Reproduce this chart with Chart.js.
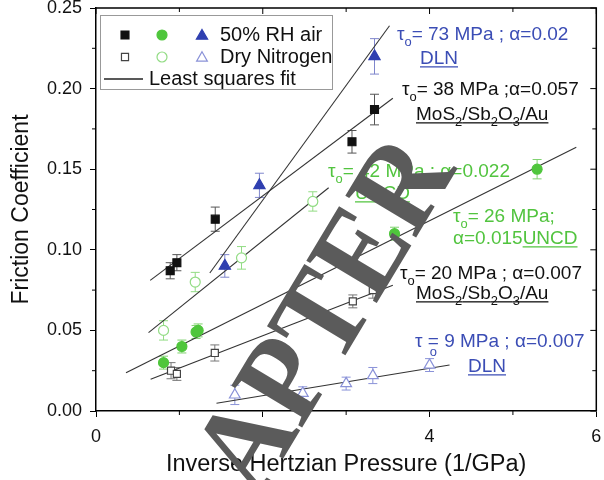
<!DOCTYPE html>
<html><head><meta charset="utf-8">
<script src="https://cdn.jsdelivr.net/npm/chart.js@4.4.1/dist/chart.umd.min.js"></script>
<style>html,body{margin:0;padding:0;background:#fff}</style>
</head><body>
<canvas id="c" width="604" height="480"></canvas>
<script>
// ---- data ----
const xTicks = [0, 2, 4, 6];
const yTicks = [0.00, 0.05, 0.10, 0.15, 0.20, 0.25];

// humid air (50% RH), filled markers
const mosAirX = [0.89, 0.97, 1.43, 3.07, 3.34];
const mosAirY = [0.087, 0.092, 0.119, 0.167, 0.187];
const mosAirErr = [0.005, 0.005, 0.0075, 0.007, 0.0095];
const dlnAirX = [1.545, 1.96, 3.34];
const dlnAirY = [0.090, 0.140, 0.220];
const dlnAirErr = [0.007, 0.0075, 0.011];
const uncdAirX = [0.81, 1.03, 1.20, 1.225, 3.58, 5.29];
const uncdAirY = [0.030, 0.040, 0.049, 0.050, 0.110, 0.150];
const uncdAirErr = [0.004, 0.004, 0.004, 0.004, 0.004, 0.006];

// dry nitrogen, open markers
const mosN2X = [0.90, 0.97, 1.425, 3.08, 3.32];
const mosN2Y = [0.025, 0.023, 0.036, 0.068, 0.075];
const mosN2Err = [0.005, 0.004, 0.005, 0.004, 0.005];
const uncdN2X = [0.81, 1.19, 1.745, 2.60];
const uncdN2Y = [0.050, 0.080, 0.095, 0.130];
const uncdN2Err = [0.006, 0.006, 0.007, 0.006];
const dlnN2X = [1.665, 2.48, 3.0, 3.32, 4.0];
const dlnN2Y = [0.010, 0.011, 0.017, 0.022, 0.0285];
const dlnN2Err = [0.006, 0.004, 0.004, 0.005, 0.004];

// least squares fit lines (end points)
const fitMosAirX = [0.65, 3.56],  fitMosAirY = [0.081, 0.194];
const fitDlnAirX = [1.365, 3.52], fitDlnAirY = [0.0856, 0.239];
const fitUncdAirX = [0.36, 5.76], fitUncdAirY = [0.0238, 0.1636];
const fitUncdN2X = [0.63, 2.79],  fitUncdN2Y = [0.0486, 0.1385];
const fitMosN2X = [0.655, 3.56],  fitMosN2Y = [0.0197, 0.078];
const fitDlnN2X = [1.445, 4.24],  fitDlnN2Y = [0.0048, 0.0285];

// ---- styling ----
const FONT = '"Liberation Sans", Arial, Helvetica, sans-serif';
const BLACK = '#111111', GREEN = '#4fc63c', BLUE = '#2f3fb0';
const GREEN_LT = '#92dc84', BLUE_LT = '#8a92d8', GREY = '#444444';
const TXT_BLUE = '#3b4db5', TXT_GREEN = '#52c43f';

const pts = (xs, ys) => xs.map((x, i) => ({x, y: ys[i]}));

function scatterSet(label, xs, ys, errs, style, radius, fill, border, errColor) {
  return {
    type: 'scatter', label, data: pts(xs, ys), errors: errs, errColor,
    pointStyle: style, pointRadius: radius, pointHoverRadius: radius,
    backgroundColor: fill, borderColor: border, borderWidth: 1.2, order: 1
  };
}
function fitSet(xs, ys) {
  return {
    type: 'line', label: 'fit', data: pts(xs, ys), showLine: true,
    borderColor: '#333333', borderWidth: 1.1, pointRadius: 0, fill: false, order: 2
  };
}

const datasets = [
  fitSet(fitMosAirX, fitMosAirY), fitSet(fitDlnAirX, fitDlnAirY), fitSet(fitUncdAirX, fitUncdAirY),
  fitSet(fitUncdN2X, fitUncdN2Y), fitSet(fitMosN2X, fitMosN2Y), fitSet(fitDlnN2X, fitDlnN2Y),
  scatterSet('MoS2 air', mosAirX, mosAirY, mosAirErr, 'rect', 5.6, BLACK, BLACK, '#555555'),
  scatterSet('DLN air', dlnAirX, dlnAirY, dlnAirErr, 'triangle', 6.5, BLUE, BLUE, '#7f86cc'),
  scatterSet('UNCD air', uncdAirX, uncdAirY, uncdAirErr, 'circle', 5, GREEN, GREEN, '#7fd26f'),
  scatterSet('MoS2 N2', mosN2X, mosN2Y, mosN2Err, 'rect', 5, '#ffffff', GREY, '#777777'),
  scatterSet('UNCD N2', uncdN2X, uncdN2Y, uncdN2Err, 'circle', 5, '#ffffff', GREEN_LT, GREEN_LT),
  scatterSet('DLN N2', dlnN2X, dlnN2Y, dlnN2Err, 'triangle', 6.2, '#ffffff', BLUE_LT, BLUE_LT)
];

// rich text helper
function drawRich(ctx, x, y, segs, color, size) {
  ctx.save();
  ctx.fillStyle = color; ctx.strokeStyle = color;
  ctx.textAlign = 'left'; ctx.textBaseline = 'alphabetic';
  const base = y + size * 0.36;
  let cx = x;
  for (const s of segs) {
    let w;
    if (s.sub) {
      ctx.font = `${size * 0.68}px ${FONT}`;
      ctx.fillText(s.t, cx, base + size * 0.3);
      w = ctx.measureText(s.t).width;
    } else {
      ctx.font = `${size}px ${FONT}`;
      ctx.fillText(s.t, cx, base);
      w = ctx.measureText(s.t).width;
      if (s.below) {
        ctx.font = `${size * 0.68}px ${FONT}`;
        const bw = ctx.measureText(s.below).width;
        ctx.fillText(s.below, cx + (w - bw) / 2, base + size * 0.5);
      }
    }
    if (s.u) {
      ctx.lineWidth = 1.3;
      ctx.beginPath(); ctx.moveTo(cx, base + 3); ctx.lineTo(cx + w, base + 3); ctx.stroke();
    }
    cx += w;
  }
  ctx.restore();
}
const mos = () => [
  {t: 'MoS', u: 1}, {t: '2', sub: 1, u: 1}, {t: '/Sb', u: 1}, {t: '2', sub: 1, u: 1},
  {t: 'O', u: 1}, {t: '3', sub: 1, u: 1}, {t: '/Au', u: 1}
];
const labels = [
  {x: 397, y: 33, c: TXT_BLUE, s: [{t: 'τ'}, {t: 'o', sub: 1}, {t: '= 73 MPa ; α=0.02'}]},
  {x: 420, y: 57, c: TXT_BLUE, s: [{t: 'DLN', u: 1}]},
  {x: 402, y: 88, c: BLACK, s: [{t: 'τ'}, {t: 'o', sub: 1}, {t: '= 38 MPa ;α=0.057'}]},
  {x: 416, y: 113, c: BLACK, s: mos()},
  {x: 328, y: 170, c: TXT_GREEN, s: [{t: 'τ'}, {t: 'o', sub: 1}, {t: '= 42 MPa ; α=0.022'}]},
  {x: 355, y: 192, c: TXT_GREEN, s: [{t: 'UNCD', u: 1}]},
  {x: 453, y: 215, c: TXT_GREEN, s: [{t: 'τ'}, {t: 'o', sub: 1}, {t: '= 26 MPa;'}]},
  {x: 453, y: 237, c: TXT_GREEN, s: [{t: 'α=0.015'}, {t: 'UNCD', u: 1}]},
  {x: 400, y: 272, c: BLACK, s: [{t: 'τ'}, {t: 'o', sub: 1}, {t: '= 20 MPa ; α=0.007'}]},
  {x: 416, y: 292, c: BLACK, s: mos()},
  {x: 415, y: 340, c: TXT_BLUE, s: [{t: 'τ '}, {t: '=', below: 'o'}, {t: ' 9 MPa ; α=0.007'}]},
  {x: 468, y: 365, c: TXT_BLUE, s: [{t: 'DLN', u: 1}]}
];

function marker(ctx, style, x, y, r, fill, stroke) {
  ctx.save();
  ctx.fillStyle = fill; ctx.strokeStyle = stroke; ctx.lineWidth = 1.2;
  Chart.helpers.drawPoint(ctx, {pointStyle: style, radius: r, borderWidth: 1.2}, x, y);
  ctx.restore();
}

const decor = {
  id: 'decor',
  beforeDatasetsDraw(chart) {
    const ctx = chart.ctx, xs = chart.scales.x, ys = chart.scales.y;
    ctx.save();
    chart.data.datasets.forEach(ds => {
      if (!ds.errors) return;
      ctx.strokeStyle = ds.errColor; ctx.lineWidth = 1;
      ds.data.forEach((p, i) => {
        const px = xs.getPixelForValue(p.x);
        const y1 = ys.getPixelForValue(p.y + ds.errors[i]);
        const y2 = ys.getPixelForValue(p.y - ds.errors[i]);
        ctx.beginPath();
        ctx.moveTo(px, y1); ctx.lineTo(px, y2);
        ctx.moveTo(px - 4.5, y1); ctx.lineTo(px + 4.5, y1);
        ctx.moveTo(px - 4.5, y2); ctx.lineTo(px + 4.5, y2);
        ctx.stroke();
      });
    });
    ctx.restore();
  },
  afterDraw(chart) {
    const ctx = chart.ctx, xs = chart.scales.x, ys = chart.scales.y, a = chart.chartArea;
    ctx.save();
    // frame top & right
    ctx.strokeStyle = '#000'; ctx.lineWidth = 1.5;
    ctx.beginPath();
    ctx.moveTo(a.left, a.top); ctx.lineTo(a.right, a.top); ctx.lineTo(a.right, a.bottom);
    ctx.stroke();
    ctx.lineWidth = 1;
    ctx.beginPath();
    for (let v = 0; v <= 6.001; v += 1) {
      const px = xs.getPixelForValue(v);
      const major = Math.round(v) % 2 === 0;
      const L = major ? 6 : 4;
      if (!major) { ctx.moveTo(px, a.bottom); ctx.lineTo(px, a.bottom + L); }
      ctx.moveTo(px, a.top); ctx.lineTo(px, a.top + L);
    }
    for (let k = 0; k <= 10; k++) {
      const v = k * 0.025;
      const py = ys.getPixelForValue(v);
      const major = k % 2 === 0;
      const L = major ? 6 : 4;
      if (!major) { ctx.moveTo(a.left, py); ctx.lineTo(a.left - L, py); }
      ctx.moveTo(a.right, py); ctx.lineTo(a.right - L, py);
    }
    ctx.stroke();

    // legend
    ctx.fillStyle = '#fff'; ctx.strokeStyle = '#999'; ctx.lineWidth = 1;
    ctx.fillRect(100.5, 15.5, 232, 74);
    ctx.strokeRect(100.5, 15.5, 232, 74);
    marker(ctx, 'rect', 125, 35, 5.6, BLACK, BLACK);
    marker(ctx, 'circle', 162, 35, 5, GREEN, GREEN);
    marker(ctx, 'triangle', 202, 36, 6.5, BLUE, BLUE);
    marker(ctx, 'rect', 125, 57, 5, '#fff', GREY);
    marker(ctx, 'circle', 162, 57, 5, '#fff', GREEN_LT);
    marker(ctx, 'triangle', 202, 58, 6.2, '#fff', BLUE_LT);
    ctx.strokeStyle = '#222'; ctx.lineWidth = 1.3;
    ctx.beginPath(); ctx.moveTo(104, 79); ctx.lineTo(143, 79); ctx.stroke();
    ctx.fillStyle = '#111'; ctx.font = `20px ${FONT}`;
    ctx.textBaseline = 'middle'; ctx.textAlign = 'left';
    ctx.fillText('50% RH air', 220, 35);
    ctx.fillText('Dry Nitrogen', 220, 57);
    ctx.fillText('Least squares fit', 149, 79);

    // annotations
    labels.forEach(l => drawRich(ctx, l.x, l.y, l.s, l.c, 19));

    // watermark
    ctx.translate(330, 318);
    ctx.rotate(-59 * Math.PI / 180);
    ctx.scale(1, 1.1);
    ctx.font = 'bold 114px "Liberation Serif", "Times New Roman", serif';
    ctx.fillStyle = '#5b5b5b';
    ctx.textAlign = 'center'; ctx.textBaseline = 'middle';
    ctx.fillText('APTER', 0, 0);
    ctx.restore();
  }
};

new Chart(document.getElementById('c'), {
  data: {datasets},
  options: {
    responsive: false, animation: false,
    layout: {padding: {left: 0, right: 6, top: 8, bottom: 0}},
    plugins: {legend: {display: false}, tooltip: {enabled: false}},
    scales: {
      x: {
        type: 'linear', min: 0, max: 6,
        afterBuildTicks: s => { s.ticks = xTicks.map(v => ({value: v})); },
        ticks: {font: {family: FONT, size: 18}, color: '#111', padding: 9},
        grid: {drawOnChartArea: false, tickLength: 6, color: '#000', tickWidth: 1},
        border: {color: '#000', width: 1.5},
        title: {display: true, text: 'Inverse Hertzian Pressure (1/GPa)', font: {family: FONT, size: 23.5}, color: '#111', padding: {top: 0, bottom: 1}},
        afterFit: s => { s.height = 69; s.paddingLeft = 0; s.paddingRight = 0; }
      },
      y: {
        type: 'linear', min: 0, max: 0.25,
        afterBuildTicks: s => { s.ticks = yTicks.map(v => ({value: v})); },
        ticks: {font: {family: FONT, size: 18}, color: '#111', padding: 8, callback: v => v.toFixed(2)},
        grid: {drawOnChartArea: false, tickLength: 6, color: '#000', tickWidth: 1},
        border: {color: '#000', width: 1.5},
        title: {display: true, text: 'Friction Coefficient', font: {family: FONT, size: 23}, color: '#111', padding: {top: 8, bottom: 0}},
        afterFit: s => { s.width = 96; s.paddingTop = 0; s.paddingBottom = 0; }
      }
    }
  },
  plugins: [decor]
});
</script>
</body></html>
